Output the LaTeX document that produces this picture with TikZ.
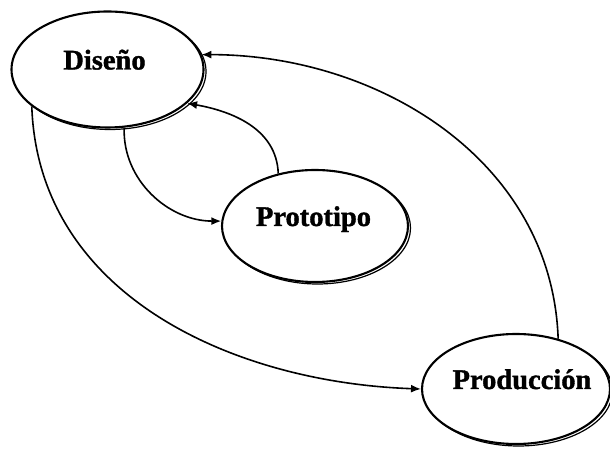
\documentclass[tikz,border=0pt]{standalone}
\usepackage{fontspec}
\setmainfont{Liberation Serif}
\newfontfamily\stagefont[FakeBold=1.3]{Liberation Serif Bold}
\usetikzlibrary{shapes.geometric,arrows.meta}

\tikzset{
  stage/.style={ellipse, draw=black, fill=white, line width=2.1pt,
                inner sep=0pt},
  stageshadow/.style={ellipse, draw=black, line width=1.2pt, inner sep=0pt},
  stagelabel/.style={anchor=base, inner sep=0pt,
                     font=\fontsize{28.5}{30}\stagefont},
  flow/.style={line width=1.6pt, -{Latex[length=10pt,width=8pt]}}
}

\begin{document}
\begin{tikzpicture}[x=1pt,y=1pt]
  \fill[white] (0,0) rectangle (610,449);
  \useasboundingbox (0,0) rectangle (610,449);

  % soft double outline along the lower right of each stage
  \node[stageshadow, minimum width=192pt, minimum height=116pt] (disS) at (110,377.5) {};
  \node[stageshadow, minimum width=186pt, minimum height=112pt] (proS) at (317.5,221) {};
  \node[stageshadow, minimum width=188pt, minimum height=110pt] (prdS) at (518.5,58) {};

  % the three stages
  \node[stage, minimum width=192pt, minimum height=116pt] (dis) at (107.5,379.5) {};
  \node[stage, minimum width=186pt, minimum height=112pt] (pro) at (315,223) {};
  \node[stage, minimum width=188pt, minimum height=110pt] (prd) at (516,60) {};

  \node[stagelabel] (disT) at (104.5,379.5) {Diseño};
  \node[stagelabel] (proT) at (313.5,223) {Prototipo};
  \node[stagelabel] (prdT) at (522,60) {Producción};

  % design -> prototype -> design
  \draw[flow] (dis.-74) to[out=-92, in=180] (pro.177);
  \draw[flow] (pro.125) to[out=92, in=-10] (dis.-23);

  % design -> production -> design
  \draw[flow] (dis.206) to[out=-88, in=178] (prd.180);
  \draw[flow] (prd.50) to[out=92, in=0] (dis.9);
\end{tikzpicture}
\end{document}
